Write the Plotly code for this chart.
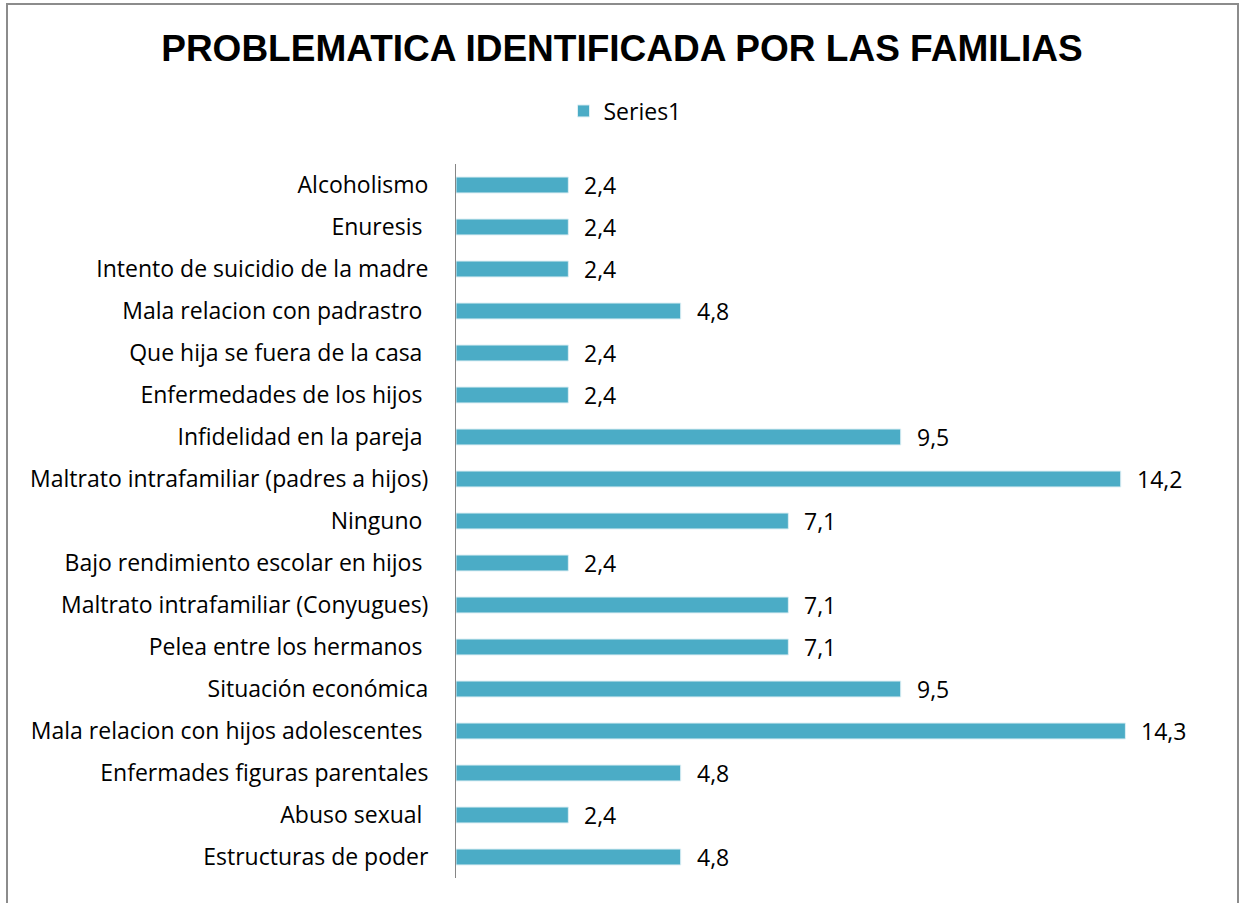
import plotly.graph_objects as go

categories = [
    "Alcoholismo",
    "Enuresis ",
    "Intento de suicidio de la madre",
    "Mala relacion con padrastro ",
    "Que hija se fuera de la casa ",
    "Enfermedades de los hijos ",
    "Infidelidad en la pareja ",
    "Maltrato intrafamiliar (padres a hijos)",
    "Ninguno ",
    "Bajo rendimiento escolar en hijos ",
    "Maltrato intrafamiliar (Conyugues)",
    "Pelea entre los hermanos ",
    "Situación económica",
    "Mala relacion con hijos adolescentes ",
    "Enfermades figuras parentales",
    "Abuso sexual ",
    "Estructuras de poder",
]
values = [2.4, 2.4, 2.4, 4.8, 2.4, 2.4, 9.5, 14.2, 7.1, 2.4, 7.1, 7.1, 9.5, 14.3, 4.8, 2.4, 4.8]
value_labels = [f"{v:.1f}".replace(".", ",") for v in values]

BAR = "#4BACC6"
FONT = "Open Sans"
FS = 23

W, H = 1245, 903
ml, mt = 456, 164
plot_right, plot_bottom = 1205, 878
mr, mb = W - plot_right, H - plot_bottom
pw, ph = W - ml - mr, H - mt - mb


def px_x(p):
    return (p - ml) / pw


def px_y(p):
    return (H - mb - p) / ph


fig = go.Figure()
fig.add_trace(go.Bar(
    y=categories, x=values, orientation="h", name="Series1",
    marker=dict(color=BAR, line=dict(color="#DDEFF4", width=1)),
    showlegend=True,
))

for c, v, t in zip(categories, values, value_labels):
    fig.add_annotation(x=v, y=c, text=t, showarrow=False, xanchor="left",
                       xshift=14, font=dict(family=FONT, size=FS, color="#000"))

border = dict(color="#8C8C8C", width=2)
fig.add_shape(type="line", xref="paper", yref="paper", x0=px_x(7), x1=px_x(7),
              y0=px_y(4), y1=px_y(960), line=border)
fig.add_shape(type="line", xref="paper", yref="paper", x0=px_x(1238), x1=px_x(1238),
              y0=px_y(4), y1=px_y(960), line=border)
fig.add_shape(type="line", xref="paper", yref="paper", x0=px_x(6), x1=px_x(1239),
              y0=px_y(4), y1=px_y(4), line=border)

fig.update_layout(
    width=W, height=H,
    margin=dict(l=ml, r=mr, t=mt, b=mb),
    paper_bgcolor="white", plot_bgcolor="white",
    bargap=0.62,
    title=dict(text="<b>PROBLEMATICA IDENTIFICADA POR LAS FAMILIAS</b>",
               x=622 / W, xref="container", xanchor="center",
               y=1 - 48 / H, yanchor="middle",
               font=dict(family="Liberation Sans", size=37, color="#000")),
    legend=dict(orientation="h", x=px_x(625), xanchor="center",
                y=px_y(111), yanchor="middle",
                font=dict(family=FONT, size=FS, color="#000"),
                itemwidth=30),
    xaxis=dict(range=[0, 16], showgrid=False, showticklabels=False,
               zeroline=False, showline=False, ticks=""),
    yaxis=dict(autorange="reversed", showline=True, linecolor="#868686",
               linewidth=1, ticks="", showgrid=False, ticklabelstandoff=22,
               tickfont=dict(family=FONT, size=FS, color="#000")),
)

fig.write_html("out.html", config={"displayModeBar": False},
               post_script="document.body.style.margin='0';")
